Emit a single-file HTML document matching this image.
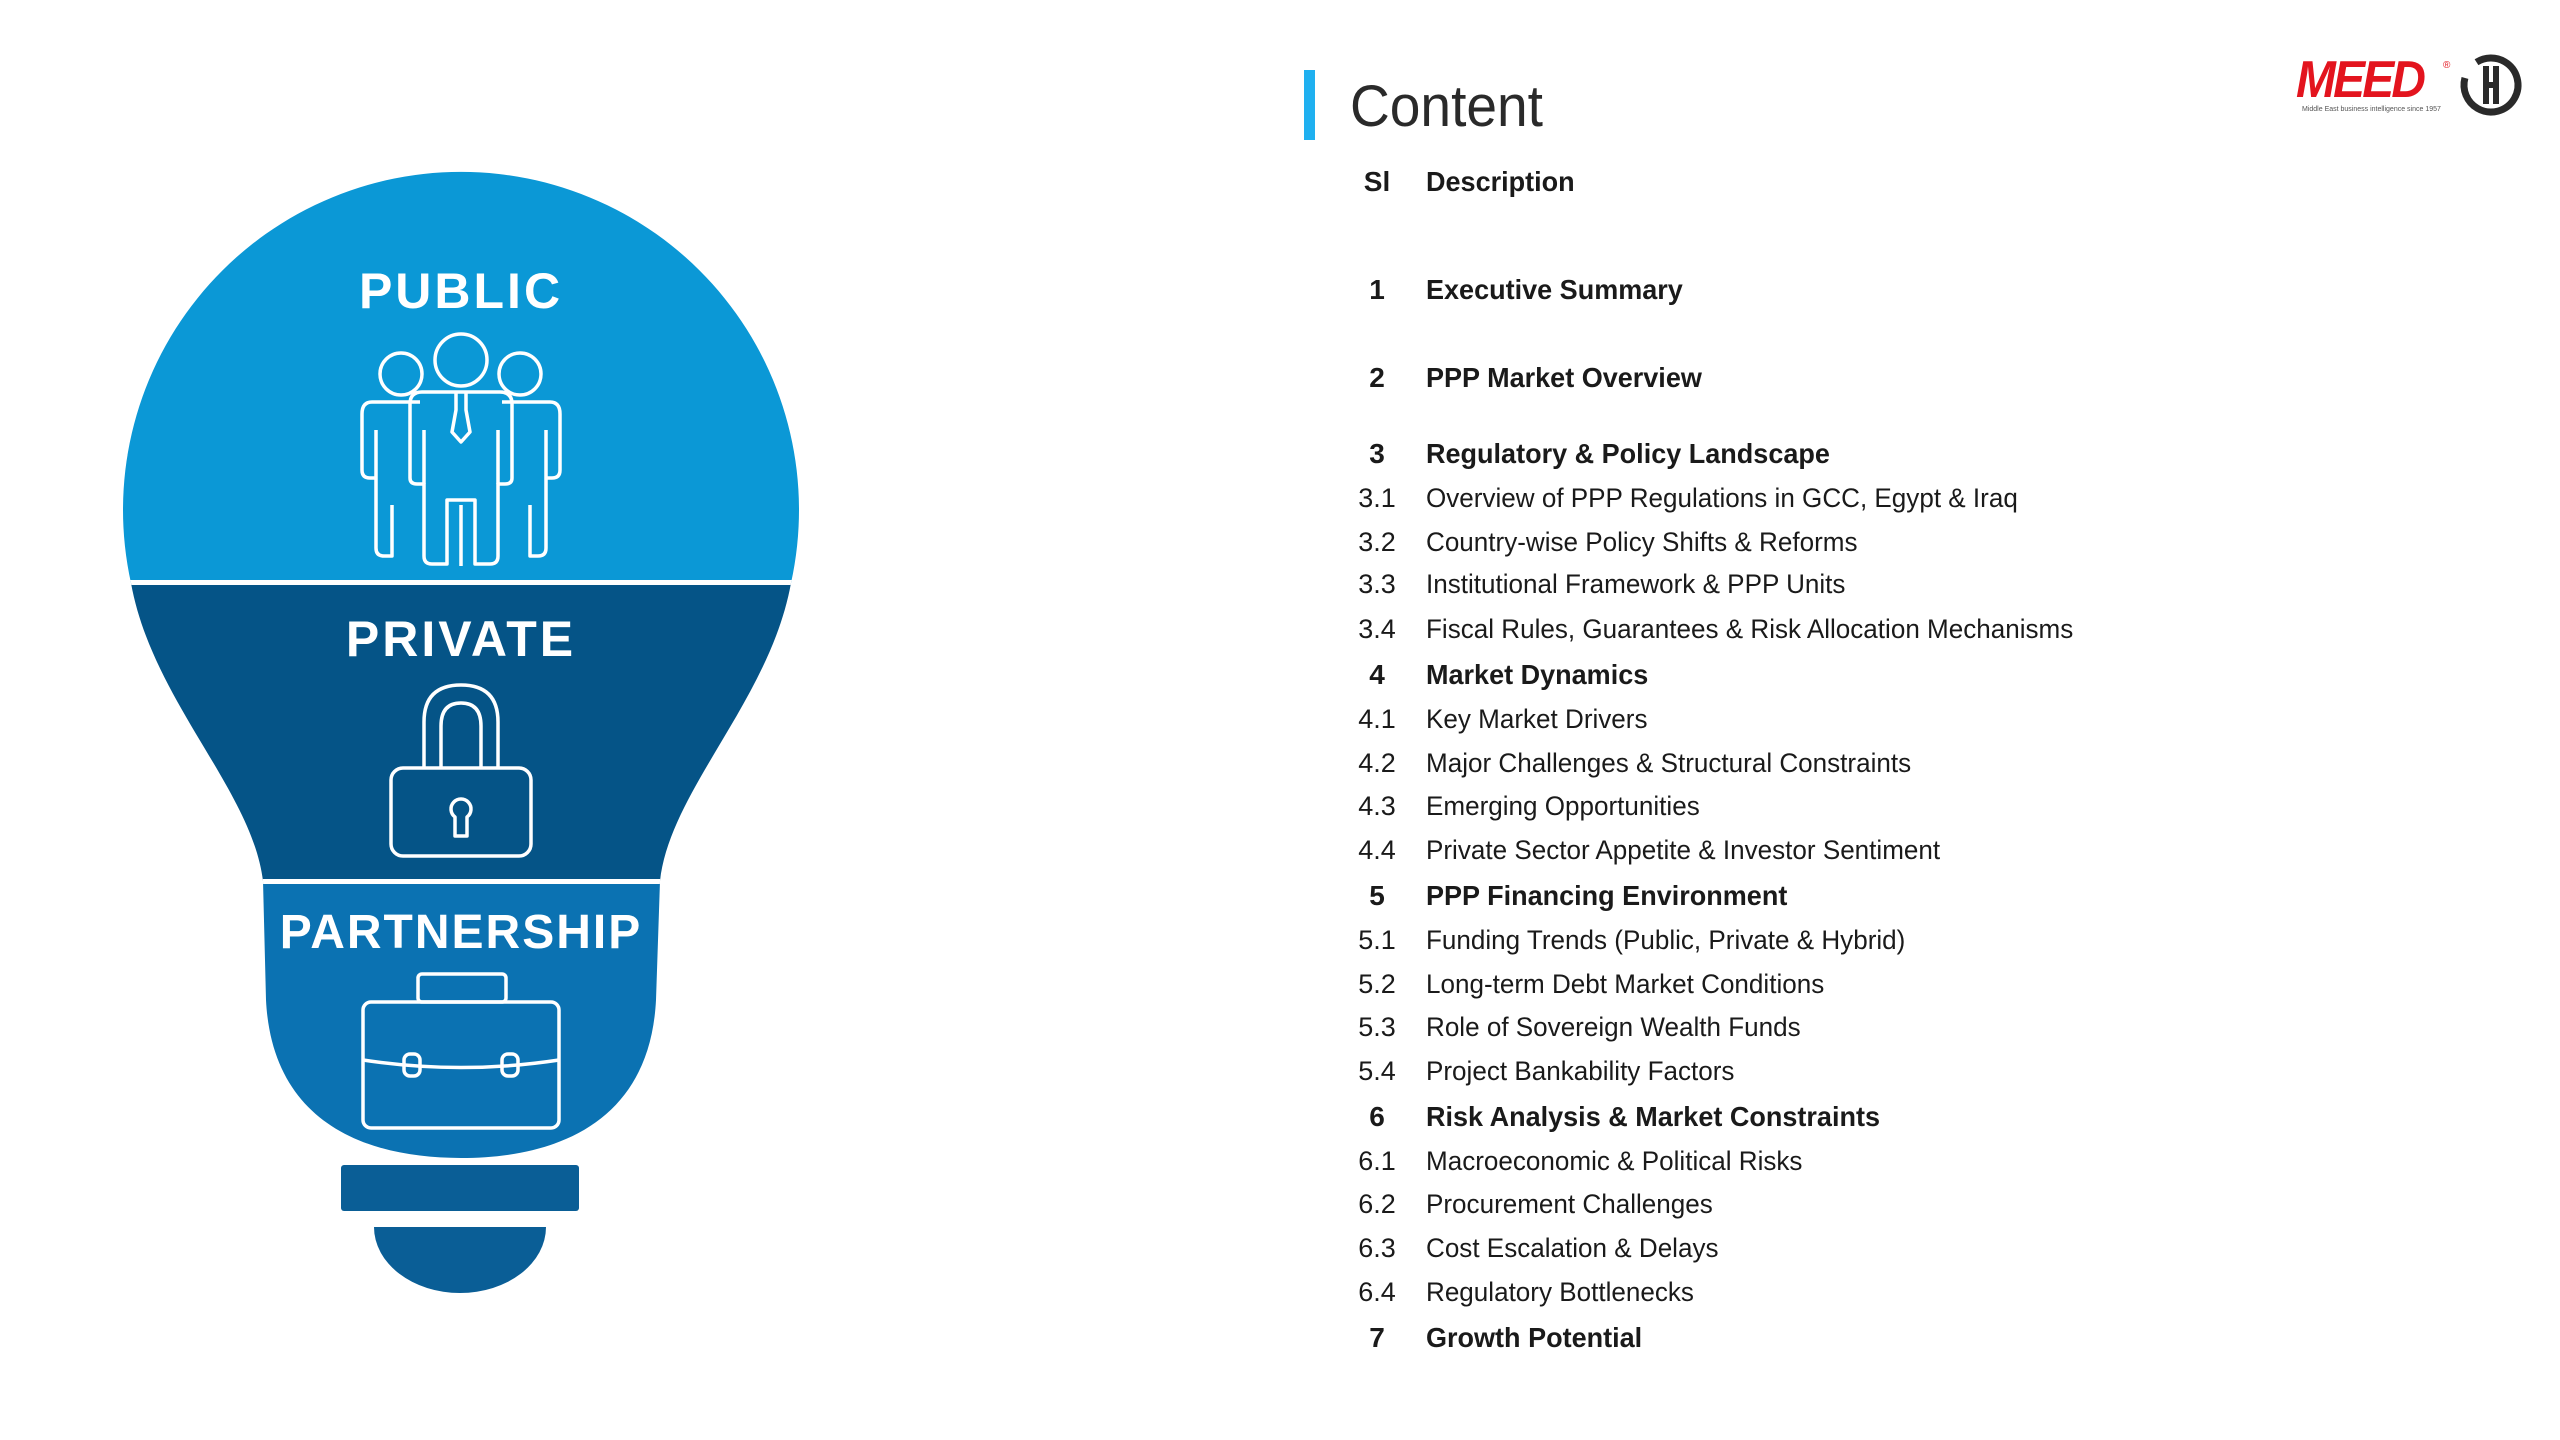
<!DOCTYPE html>
<html><head><meta charset="utf-8"><style>
body{margin:0;width:2560px;height:1440px;background:#fff;position:relative;overflow:hidden;font-family:"Liberation Sans",sans-serif;color:#1a1a1a}
.r{position:absolute;left:0;height:40px;line-height:40px;font-size:27px;white-space:nowrap}
.n{position:absolute;left:1337px;width:80px;text-align:center}
.d{position:absolute;left:1426px;transform:scaleX(0.965);transform-origin:left center}
.b{font-weight:bold;font-size:28px}
</style></head><body>
<svg width="900" height="1440" style="position:absolute;left:0;top:0">
<defs><clipPath id="bulb"><path d="M131,583 A338,338 0 1,1 791,583 C770,700 670,790 660,881 L656,1000 C650,1120 560,1158 461,1158 C362,1158 272,1120 266,1000 L263,881 C252,790 152,700 131,583 Z"/></clipPath></defs>
<g clip-path="url(#bulb)">
<rect x="0" y="0" width="900" height="583" fill="#0b98d6"/>
<rect x="0" y="583" width="900" height="298" fill="#055487"/>
<rect x="0" y="881" width="900" height="300" fill="#0b72b2"/>
<rect x="0" y="580" width="900" height="5" fill="#fff"/>
<rect x="0" y="879" width="900" height="5" fill="#fff"/>
</g>
<rect x="341" y="1165" width="238" height="46" rx="3" fill="#0a5e96"/>
<path d="M374,1227 L546,1227 A86,66 0 0,1 374,1227 Z" fill="#0a5e96"/>
<g font-family="Liberation Sans,sans-serif" font-weight="bold" fill="#fff" text-anchor="middle">
<text x="461" y="308" font-size="50" letter-spacing="3">PUBLIC</text>
<text x="461" y="656" font-size="50" letter-spacing="3">PRIVATE</text>
<text x="461" y="948" font-size="48" letter-spacing="2">PARTNERSHIP</text>
</g>
<g fill="none" stroke="#fff" stroke-width="3.5" stroke-linejoin="round">
<circle cx="401" cy="374" r="21"/><circle cx="520" cy="374" r="21"/><circle cx="461" cy="360" r="26"/>
<path d="M420,402 L372,402 Q362,402 362,414 L362,470 Q362,478 370,478 L376,478 L376,548 Q376,556 384,556 L392,556 L392,505 M376,478 L376,430"/>
<path d="M502,402 L550,402 Q560,402 560,414 L560,470 Q560,478 552,478 L546,478 L546,548 Q546,556 538,556 L530,556 L530,505 M546,478 L546,430"/>
<path d="M422,392 L500,392 Q512,392 512,404 L512,478 Q512,484 505,484 L498,484 L498,556 Q498,564 490,564 L475,564 L475,500 L447,500 L447,564 L432,564 Q424,564 424,556 L424,484 L417,484 Q410,484 410,478 L410,404 Q410,392 422,392 Z"/>
<path d="M461,566 L461,505 M456,392 L456,410 L452,432 L461,442 L470,432 L466,410 L466,392"/>
<path d="M424,430 L424,484 M498,430 L498,484"/>
<path d="M424,768 L424,722 Q424,685 461,685 Q498,685 498,722 L498,768 M441,768 L441,726 Q441,703 461,703 Q481,703 481,726 L481,768"/>
<rect x="391" y="768" width="140" height="88" rx="12"/>
<path d="M455,817 A10,10 0 1,1 467,817 L467,836 L455,836 Z"/>
<rect x="418" y="974" width="88" height="28" rx="4"/>
<rect x="363" y="1002" width="196" height="126" rx="8"/>
<path d="M363,1060 Q461,1075 559,1060"/>
<rect x="404" y="1054" width="16" height="22" rx="6"/>
<rect x="502" y="1054" width="16" height="22" rx="6"/>
</g>
</svg>

<div style="position:absolute;left:1304px;top:70px;width:11px;height:70px;background:#1fb0f0"></div>
<div style="position:absolute;left:1350px;top:72px;font-size:58px;line-height:70px;color:#2a2a2a;transform:scaleX(0.95);transform-origin:left">Content</div>

<div style="position:absolute;left:2296px;top:50px;font-size:52px;font-weight:bold;font-style:italic;color:#e3141e;letter-spacing:-3px;line-height:60px;transform:scaleX(0.92);transform-origin:left">MEED</div>
<div style="position:absolute;left:2443px;top:60px;font-size:10px;color:#e3141e">®</div>
<div style="position:absolute;left:2302px;top:106px;font-size:7px;color:#555;white-space:nowrap">Middle East business intelligence since 1957</div>
<svg width="70" height="70" style="position:absolute;left:2458px;top:50px"><circle cx="33" cy="35" r="27" fill="none" stroke="#2a2a2a" stroke-width="7" stroke-dasharray="120 20" transform="rotate(-60 33 35)"/><path d="M28,16 L28,54 M38,16 L38,54 M28,35 L38,35" stroke="#2a2a2a" stroke-width="6"/></svg>

<div class="r b" style="top:162px"><span class="n">Sl</span><span class="d">Description</span></div>
<div class="r b" style="top:270px"><span class="n">1</span><span class="d">Executive Summary</span></div>
<div class="r b" style="top:358px"><span class="n">2</span><span class="d">PPP Market Overview</span></div>
<div class="r b" style="top:434px"><span class="n">3</span><span class="d">Regulatory &amp; Policy Landscape</span></div>
<div class="r" style="top:478px"><span class="n">3.1</span><span class="d">Overview of PPP Regulations in GCC, Egypt &amp; Iraq</span></div>
<div class="r" style="top:522px"><span class="n">3.2</span><span class="d">Country-wise Policy Shifts &amp; Reforms</span></div>
<div class="r" style="top:564px"><span class="n">3.3</span><span class="d">Institutional Framework &amp; PPP Units</span></div>
<div class="r" style="top:609px"><span class="n">3.4</span><span class="d">Fiscal Rules, Guarantees &amp; Risk Allocation Mechanisms</span></div>
<div class="r b" style="top:655px"><span class="n">4</span><span class="d">Market Dynamics</span></div>
<div class="r" style="top:699px"><span class="n">4.1</span><span class="d">Key Market Drivers</span></div>
<div class="r" style="top:743px"><span class="n">4.2</span><span class="d">Major Challenges &amp; Structural Constraints</span></div>
<div class="r" style="top:786px"><span class="n">4.3</span><span class="d">Emerging Opportunities</span></div>
<div class="r" style="top:830px"><span class="n">4.4</span><span class="d">Private Sector Appetite &amp; Investor Sentiment</span></div>
<div class="r b" style="top:876px"><span class="n">5</span><span class="d">PPP Financing Environment</span></div>
<div class="r" style="top:920px"><span class="n">5.1</span><span class="d">Funding Trends (Public, Private &amp; Hybrid)</span></div>
<div class="r" style="top:964px"><span class="n">5.2</span><span class="d">Long-term Debt Market Conditions</span></div>
<div class="r" style="top:1007px"><span class="n">5.3</span><span class="d">Role of Sovereign Wealth Funds</span></div>
<div class="r" style="top:1051px"><span class="n">5.4</span><span class="d">Project Bankability Factors</span></div>
<div class="r b" style="top:1097px"><span class="n">6</span><span class="d">Risk Analysis &amp; Market Constraints</span></div>
<div class="r" style="top:1141px"><span class="n">6.1</span><span class="d">Macroeconomic &amp; Political Risks</span></div>
<div class="r" style="top:1184px"><span class="n">6.2</span><span class="d">Procurement Challenges</span></div>
<div class="r" style="top:1228px"><span class="n">6.3</span><span class="d">Cost Escalation &amp; Delays</span></div>
<div class="r" style="top:1272px"><span class="n">6.4</span><span class="d">Regulatory Bottlenecks</span></div>
<div class="r b" style="top:1318px"><span class="n">7</span><span class="d">Growth Potential</span></div>
</body></html>
